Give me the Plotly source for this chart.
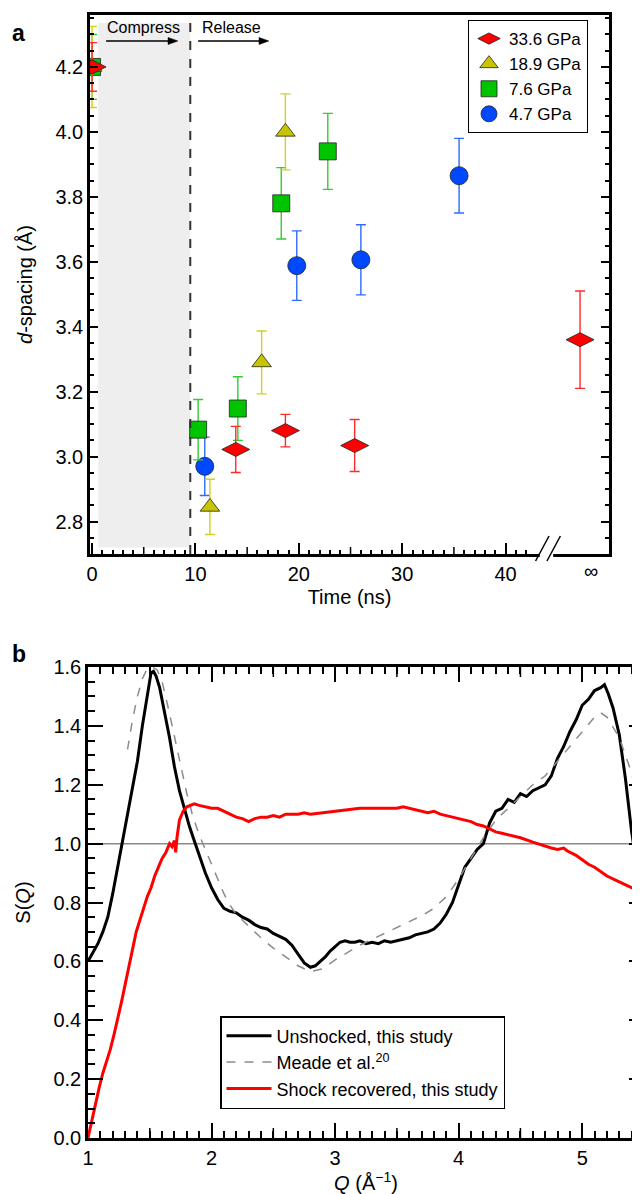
import plotly.graph_objects as go

# ---------------- Panel a data ----------------
t_336 = [0, 13.9, 18.7, 25.4, 47.2]
d_336 = [4.20, 3.022, 3.08, 3.034, 3.36]
e_336 = [0.075, 0.071, 0.05, 0.08, 0.15]

t_189 = [0, 11.4, 16.4, 18.7]
d_189 = [4.20, 2.845, 3.29, 4.00]
e_189 = [0.125, 0.085, 0.097, 0.117]

t_76 = [0, 10.26, 14.1, 18.3, 22.8]
d_76 = [4.20, 3.083, 3.148, 3.78, 3.94]
e_76 = [0.10, 0.093, 0.098, 0.11, 0.117]

t_47 = [10.9, 19.8, 26.0, 35.5]
d_47 = [2.97, 3.588, 3.606, 3.865]
e_47 = [0.09, 0.107, 0.108, 0.115]

time_ticks = [0, 10, 20, 30, 40]
time_minor = [v for v in range(1, 43) if v % 5 != 0]
time_medium = [5, 15, 25, 35]
inf_pos = 48.3

# ---------------- Panel b data ----------------
q_uns = [1.00, 1.04, 1.08, 1.12, 1.16, 1.20, 1.24, 1.28, 1.32, 1.36, 1.40, 1.44, 1.48, 1.51,
         1.53, 1.55, 1.58, 1.62, 1.66, 1.70, 1.74, 1.78, 1.82, 1.86, 1.90, 1.95, 2.00, 2.05,
         2.10, 2.15, 2.20, 2.25, 2.30, 2.35, 2.40, 2.45, 2.50, 2.55, 2.60, 2.65, 2.70, 2.75,
         2.80, 2.84, 2.88, 2.92, 2.96, 3.00, 3.04, 3.08, 3.12, 3.16, 3.20, 3.25, 3.30, 3.35,
         3.40, 3.45, 3.50, 3.55, 3.60, 3.65, 3.70, 3.75, 3.80, 3.85, 3.90, 3.95, 4.00, 4.05,
         4.10, 4.15, 4.20, 4.25, 4.30, 4.35, 4.40, 4.45, 4.50, 4.55, 4.60, 4.65, 4.70, 4.75,
         4.80, 4.85, 4.90, 4.95, 5.00, 5.05, 5.10, 5.15, 5.18, 5.21, 5.25, 5.30, 5.35, 5.40,
         5.45, 5.50]
s_uns = [0.60, 0.63, 0.66, 0.70, 0.75, 0.83, 0.92, 1.00, 1.10, 1.18, 1.28, 1.40, 1.51, 1.58,
         1.585, 1.57, 1.53, 1.45, 1.36, 1.26, 1.18, 1.12, 1.06, 1.01, 0.96, 0.90, 0.85, 0.81,
         0.78, 0.77, 0.765, 0.75, 0.74, 0.725, 0.715, 0.71, 0.695, 0.685, 0.675, 0.655, 0.625, 0.595,
         0.58, 0.585, 0.60, 0.615, 0.635, 0.65, 0.665, 0.67, 0.665, 0.665, 0.67, 0.66, 0.665, 0.66,
         0.67, 0.665, 0.67, 0.675, 0.68, 0.69, 0.695, 0.70, 0.71, 0.73, 0.76, 0.80, 0.86, 0.92,
         0.95, 0.98, 1.00, 1.07, 1.11, 1.12, 1.15, 1.14, 1.17, 1.16, 1.18, 1.19, 1.20, 1.23,
         1.29, 1.33, 1.38, 1.42, 1.47, 1.49, 1.52, 1.53, 1.54, 1.51, 1.46, 1.37, 1.22, 1.04,
         0.90, 0.80]

q_meade = [1.32, 1.36, 1.40, 1.44, 1.48, 1.52, 1.56, 1.60, 1.65, 1.70, 1.75, 1.80, 1.85, 1.90,
           1.95, 2.00, 2.05, 2.10, 2.15, 2.20, 2.30, 2.40, 2.50, 2.60, 2.70, 2.80, 2.90, 3.00,
           3.10, 3.20, 3.30, 3.40, 3.50, 3.60, 3.70, 3.80, 3.90, 4.00, 4.10, 4.20, 4.30, 4.40,
           4.50, 4.60, 4.70, 4.80, 4.90, 5.00, 5.10, 5.15, 5.20, 5.30, 5.40, 5.48]
s_meade = [1.32, 1.42, 1.50, 1.56, 1.595, 1.60, 1.59, 1.55, 1.46, 1.36, 1.26, 1.17, 1.09, 1.03,
           0.98, 0.93, 0.88, 0.83, 0.79, 0.76, 0.72, 0.68, 0.645, 0.615, 0.585, 0.565, 0.575, 0.605,
           0.63, 0.655, 0.675, 0.695, 0.715, 0.735, 0.755, 0.78, 0.82, 0.88, 0.95, 1.02, 1.08, 1.12,
           1.16, 1.20, 1.23, 1.28, 1.33, 1.38, 1.43, 1.445, 1.43, 1.36, 1.24, 1.10]

q_shock = [1.00, 1.03, 1.06, 1.09, 1.12, 1.15, 1.18, 1.21, 1.24, 1.27, 1.30, 1.33, 1.36, 1.39,
           1.42, 1.45, 1.48, 1.51, 1.54, 1.57, 1.60, 1.63, 1.66, 1.68, 1.70, 1.71, 1.72, 1.74,
           1.77, 1.80, 1.83, 1.86, 1.90, 1.95, 2.00, 2.05, 2.10, 2.15, 2.20, 2.25, 2.30, 2.35,
           2.40, 2.45, 2.50, 2.55, 2.60, 2.65, 2.70, 2.75, 2.80, 2.90, 3.00, 3.10, 3.20, 3.30,
           3.40, 3.50, 3.55, 3.60, 3.65, 3.70, 3.75, 3.80, 3.85, 3.90, 3.95, 4.00, 4.05, 4.10,
           4.15, 4.20, 4.25, 4.30, 4.35, 4.40, 4.50, 4.60, 4.70, 4.75, 4.80, 4.85, 4.88, 4.95,
           5.00, 5.05, 5.10, 5.15, 5.20, 5.30, 5.40, 5.50]
s_shock = [0.00, 0.06, 0.12, 0.17, 0.22, 0.26, 0.30, 0.35, 0.40, 0.46, 0.52, 0.58, 0.64, 0.70,
           0.74, 0.78, 0.82, 0.85, 0.89, 0.92, 0.95, 0.97, 1.00, 0.99, 1.01, 0.97, 1.02, 1.08,
           1.11, 1.125, 1.13, 1.135, 1.13, 1.125, 1.12, 1.12, 1.11, 1.10, 1.09, 1.085, 1.075, 1.085,
           1.09, 1.09, 1.095, 1.09, 1.10, 1.10, 1.10, 1.105, 1.10, 1.105, 1.11, 1.115, 1.12, 1.12,
           1.12, 1.12, 1.125, 1.12, 1.115, 1.11, 1.105, 1.11, 1.10, 1.095, 1.09, 1.085, 1.08, 1.075,
           1.065, 1.06, 1.05, 1.04, 1.035, 1.03, 1.02, 1.005, 0.99, 0.985, 0.98, 0.985, 0.975, 0.96,
           0.945, 0.93, 0.92, 0.905, 0.89, 0.87, 0.85, 0.83]

s_ref = 1.0
q_medium = [1.5, 2.5, 3.5, 4.5]

FONT = "Liberation Sans, Arial, sans-serif"

fig = go.Figure()

def add_series(t, d, e, name, symbol, size, fill, ecol):
    fig.add_trace(go.Scatter(
        x=t, y=d, mode="markers", name=name, xaxis="x", yaxis="y", legend="legend",
        marker=dict(symbol=symbol, size=size, color=fill, line=dict(color="#222222", width=0.8)),
        error_y=dict(type="data", array=e, visible=True, color=ecol, thickness=1.4, width=5),
    ))

# draw order: blue first, red on top
add_series(t_47, d_47, e_47, "4.7 GPa", "circle", 18, "#0048ff", "#2f6bff")
add_series(t_76, d_76, e_76, "7.6 GPa", "square", 17, "#00c400", "#33cc33")
add_series(t_189, d_189, e_189, "18.9 GPa", "triangle-up", 17, "#c8c400", "#d2d020")
add_series(t_336, d_336, e_336, "33.6 GPa", "diamond-wide", 20, "#ff0000", "#ff2a2a")

# panel b curves
fig.add_trace(go.Scatter(x=q_uns, y=s_uns, mode="lines", name="Unshocked, this study",
                         xaxis="x2", yaxis="y2", legend="legend2",
                         line=dict(color="black", width=3)))
fig.add_trace(go.Scatter(x=q_meade, y=s_meade, mode="lines", name="Meade et al.<sup>20</sup>",
                         xaxis="x2", yaxis="y2", legend="legend2",
                         line=dict(color="#8c8c8c", width=1.5, dash="dash")))
fig.add_trace(go.Scatter(x=q_shock, y=s_shock, mode="lines", name="Shock recovered, this study",
                         xaxis="x2", yaxis="y2", legend="legend2",
                         line=dict(color="#ff0000", width=3)))

W, H = 640, 1194
xa_dom = [82 / W, 601 / W]
ya_dom = [1 - 546 / H, 1 - 7 / H]
xb_dom = [80 / W, 636 / W]
yb_dom = [1 - 1130 / H, 1 - 659 / H]
xa_range = [-0.2, 50.0]
ya_range = [2.70, 4.36]
xb_range = [1.0, 5.5]
yb_range = [0.0, 1.6]

tickfont = dict(family=FONT, size=20, color="black")
titlefont = dict(family=FONT, size=20, color="black")
common = dict(showgrid=False, zeroline=False, showline=True, linecolor="black", linewidth=2.5,
              ticks="inside", tickcolor="black", tickwidth=2, tickfont=tickfont, automargin=False)

fig.update_layout(
    width=W, height=H, margin=dict(l=0, r=0, t=0, b=0),
    paper_bgcolor="white", plot_bgcolor="white",
    font=dict(family=FONT, color="black"),
    xaxis=dict(domain=xa_dom, range=xa_range, anchor="y", mirror=True,
               tickmode="array", tickvals=time_ticks, ticktext=[str(v) for v in time_ticks], ticklen=11,
               minor=dict(tickmode="array", tickvals=time_minor, ticks="inside", ticklen=4,
                          tickwidth=1.5, tickcolor="black"),
               title=dict(text="Time (ns)", font=titlefont, standoff=7),
               **common),
    yaxis=dict(domain=ya_dom, range=ya_range, anchor="x", mirror="allticks",
               tick0=2.8, dtick=0.2, tickformat=".1f", ticklen=8,
               minor=dict(dtick=0.05, ticks="inside", ticklen=4, tickwidth=1.5, tickcolor="black"),
               title=dict(text="<i>d</i>-spacing (Å)", font=titlefont, standoff=18),
               **common),
    xaxis2=dict(domain=xb_dom, range=xb_range, anchor="y2", mirror="allticks",
                tick0=1, dtick=1, ticklen=15,
                minor=dict(dtick=0.1, ticks="inside", ticklen=7, tickwidth=1.5, tickcolor="black"),
                title=dict(text="<i>Q</i> (Å<sup>−1</sup>)", font=titlefont, standoff=4),
                **common),
    yaxis2=dict(domain=yb_dom, range=yb_range, anchor="x2", mirror="allticks",
                tick0=0, dtick=0.2, tickformat=".1f", ticklen=15,
                minor=dict(dtick=0.05, ticks="inside", ticklen=7, tickwidth=1.5, tickcolor="black"),
                title=dict(text="S(<i>Q</i>)", font=titlefont, standoff=18),
                **common),
    legend=dict(x=580 / W, y=1 - 12 / H, xanchor="right", yanchor="top", traceorder="reversed",
                bgcolor="white", bordercolor="black", borderwidth=1,
                font=dict(family=FONT, size=17), itemwidth=30),
    legend2=dict(x=212 / W, y=1 - 1008 / H, xanchor="left", yanchor="top", traceorder="normal",
                 bgcolor="white", bordercolor="black", borderwidth=1.5,
                 font=dict(family=FONT, size=18), itemwidth=45),
    showlegend=True,
)

# medium ticks (half-decade marks) drawn as short strokes on the axes
med_a = 7 / H
for v in time_medium:
    fig.add_shape(type="line", xref="x", yref="paper", x0=v, x1=v, y0=ya_dom[0], y1=ya_dom[0] + med_a,
                  line=dict(color="black", width=1.5))
med_b = 10 / H
for v in q_medium:
    fig.add_shape(type="line", xref="x2", yref="paper", x0=v, x1=v, y0=yb_dom[0], y1=yb_dom[0] + med_b,
                  line=dict(color="black", width=1.5))
    fig.add_shape(type="line", xref="x2", yref="paper", x0=v, x1=v, y0=yb_dom[1] - med_b, y1=yb_dom[1],
                  line=dict(color="black", width=1.5))

# shaded compression region and release boundary
fig.add_shape(type="rect", xref="x", yref="y", x0=0.6, x1=9.5, y0=2.72, y1=4.335,
              fillcolor="#eeeeee", line=dict(width=0), layer="below")
fig.add_shape(type="line", xref="x", yref="paper", x0=9.5, x1=9.5, y0=ya_dom[0], y1=ya_dom[1],
              line=dict(color="#333333", width=2, dash="dash"))

# axis break
fig.add_shape(type="rect", xref="x", yref="paper", x0=43.3, x1=44.6,
              y0=ya_dom[0] - 0.004, y1=ya_dom[0] + 0.004, fillcolor="white", line=dict(width=0))
for x0 in (42.9, 44.0):
    fig.add_shape(type="line", xref="x", yref="paper", x0=x0, x1=x0 + 1.3,
                  y0=1 - 553 / H, y1=1 - 528 / H, line=dict(color="black", width=1.5))

# reference line S(Q)=1
fig.add_shape(type="line", xref="x2", yref="y2", x0=xb_range[0], x1=xb_range[1], y0=s_ref, y1=s_ref,
              line=dict(color="#8a8a8a", width=1.5), layer="below")

# compress / release arrows (line + filled head)
arrow_y = 4.28
head_len = 0.95
head_half = 0.011
for x_tail, x_head in ((1.36, 8.3), (10.26, 17.1)):
    fig.add_shape(type="line", xref="x", yref="y", x0=x_tail, x1=x_head - head_len * 0.5,
                  y0=arrow_y, y1=arrow_y, line=dict(color="black", width=1.5))
    fig.add_shape(type="path", xref="x", yref="y",
                  path=f"M {x_head},{arrow_y} L {x_head - head_len},{arrow_y + head_half} "
                       f"L {x_head - head_len},{arrow_y - head_half} Z",
                  fillcolor="black", line=dict(color="black", width=0.5))

# annotations
fig.add_annotation(xref="x", yref="paper", x=inf_pos, y=1 - 563 / H, text="∞", showarrow=False,
                   font=dict(family=FONT, size=20))
fig.add_annotation(xref="x", yref="y", x=1.25, y=4.32, text="Compress", showarrow=False,
                   xanchor="left", font=dict(family=FONT, size=16))
fig.add_annotation(xref="x", yref="y", x=10.45, y=4.32, text="Release", showarrow=False,
                   xanchor="left", font=dict(family=FONT, size=16))
fig.add_annotation(xref="paper", yref="paper", x=2 / W, y=1 - 10 / H, text="<b>a</b>",
                   showarrow=False, xanchor="left", font=dict(family=FONT, size=23))
fig.add_annotation(xref="paper", yref="paper", x=2 / W, y=1 - 646 / H, text="<b>b</b>",
                   showarrow=False, xanchor="left", font=dict(family=FONT, size=23))

fig.write_html("out.html")
